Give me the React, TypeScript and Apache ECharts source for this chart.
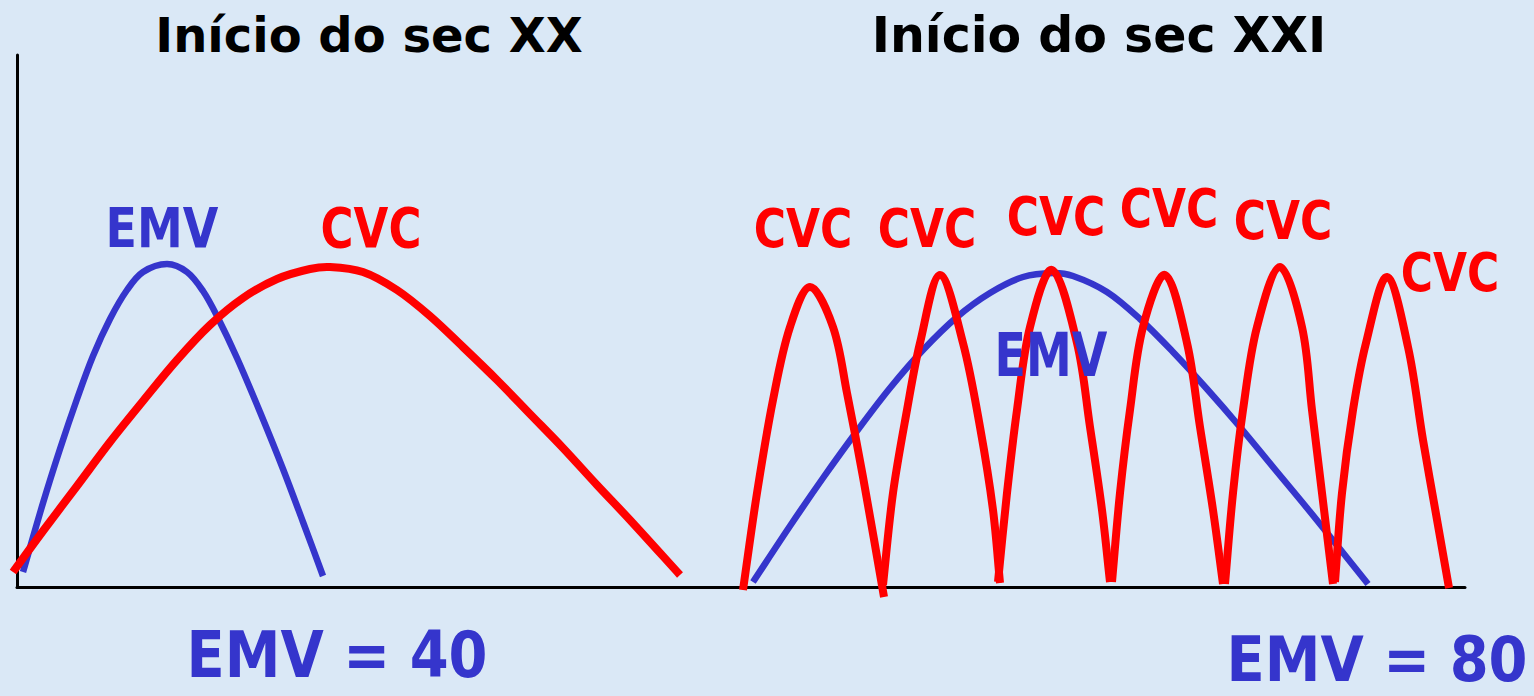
import React, { useEffect, useRef } from "react";
import * as echarts from "echarts";

// x: time offset from the vertical axis, y: height above the horizontal axis
const emv1900: number[][] = [
  [6, 15], [26, 84], [43, 138], [60, 188], [76, 231], [93, 268], [110, 297],
  [126, 315], [150, 323], [170, 315], [186, 296], [200, 271], [220, 229],
  [243, 175], [266, 118], [286, 65], [306, 11],
];
const cvc1900: number[][] = [
  [-4, 15], [26, 56], [60, 101], [93, 145], [126, 186], [160, 227], [193, 262],
  [226, 289], [260, 308], [293, 318], [313, 320], [346, 315], [380, 297],
  [413, 271], [446, 240], [480, 207], [513, 173], [546, 139], [580, 102],
  [613, 67], [663, 12],
];
const emv2000: number[][] = [
  [736, 5], [773, 61], [806, 109], [840, 156], [873, 199], [906, 237],
  [940, 270], [973, 294], [1006, 310], [1036, 314], [1056, 311], [1090, 295],
  [1123, 268], [1156, 235], [1190, 198], [1223, 160], [1256, 120], [1290, 79],
  [1323, 38], [1351, 3],
];
const cvc2000a: number[][] = [
  [726, -3], [740, 94], [756, 187], [773, 260], [793, 300],
  [816, 260], [830, 194], [846, 110], [867, -10],
];
const cvc2000b: number[][] = [
  [866, 2], [876, 94], [890, 177], [903, 244], [923, 312],
  [946, 244], [963, 160], [976, 77], [983, 4],
];
const cvc2000c: number[][] = [
  [981, 5], [990, 94], [1000, 177], [1013, 260], [1035, 317],
  [1060, 244], [1073, 160], [1085, 77], [1093, 5],
];
const cvc2000d: number[][] = [
  [1095, 5], [1103, 94], [1113, 177], [1126, 260], [1148, 312],
  [1170, 244], [1183, 160], [1196, 77], [1206, 3],
];
const cvc2000e: number[][] = [
  [1208, 3], [1216, 94], [1226, 177], [1240, 260], [1263, 320],
  [1285, 260], [1295, 177], [1305, 94], [1316, 3],
];
const cvc2000f: number[][] = [
  [1318, 5], [1325, 94], [1336, 177], [1349, 244], [1370, 310],
  [1391, 240], [1406, 147], [1419, 73], [1432, -1],
];
const cvcArcs = [cvc2000a, cvc2000b, cvc2000c, cvc2000d, cvc2000e, cvc2000f];

const titleLeft = "Início do sec XX";
const titleRight = "Início do sec XXI";
const emvLabel = "EMV";
const cvcLabel = "CVC";
const emvLeftValue = "EMV = 40";
const emvRightValue = "EMV = 80";

const BLUE = "#3535cc";
const RED = "#ff0000";
const FONT = "'DejaVu Sans', 'Noto Sans', sans-serif";

// A smooth curve through pixel points (cardinal-style cubic Béziers, no clamping)
const SmoothCurve = (echarts as any).graphic.extendShape({
  type: "smoothCurve",
  shape: { points: [] as number[][] },
  buildPath(ctx: any, shape: any) {
    const p: number[][] = shape.points;
    if (!p || p.length < 2) return;
    const k = 0.34;
    const dist = (a: number[], b: number[]) => Math.hypot(a[0] - b[0], a[1] - b[1]);
    ctx.moveTo(p[0][0], p[0][1]);
    for (let i = 0; i < p.length - 1; i++) {
      const a = p[i];
      const b = p[i + 1];
      const prev = i > 0 ? p[i - 1] : a;
      const next = i + 2 < p.length ? p[i + 2] : b;
      const d0 = dist(prev, a);
      const d1 = dist(a, b);
      const d2 = dist(b, next);
      const r0 = d0 + d1 > 0 ? d1 / (d0 + d1) : 0;
      const r1 = d1 + d2 > 0 ? d1 / (d1 + d2) : 0;
      const c1x = a[0] + (b[0] - prev[0]) * k * r0;
      const c1y = a[1] + (b[1] - prev[1]) * k * r0;
      const c2x = b[0] - (next[0] - a[0]) * k * r1;
      const c2y = b[1] - (next[1] - a[1]) * k * r1;
      ctx.bezierCurveTo(c1x, c1y, c2x, c2y, b[0], b[1]);
    }
  },
});
(echarts as any).graphic.registerShape("smoothCurve", SmoothCurve);

function label(text: string, x: number, y: number, size: number, color: string, sy = 1, sx = 1) {
  return {
    type: "text",
    x,
    y,
    scaleX: sx,
    scaleY: sy,
    z: 100,
    style: {
      text,
      x: 0,
      y: 0,
      fill: color,
      font: `bold ${size}px ${FONT}`,
      textAlign: "center",
      textVerticalAlign: "middle",
    },
  };
}

function curveSeries(data: number[][], color: string, width: number, z: number) {
  return {
    type: "custom",
    coordinateSystem: "cartesian2d",
    data,
    z,
    clip: false,
    silent: true,
    encode: { x: 0, y: 1 },
    renderItem: (params: any, api: any) => {
      if (params.dataIndex !== 0) return null;
      const pts = data.map((d) => api.coord(d));
      return {
        type: "smoothCurve",
        shape: { points: pts },
        style: { fill: "none", stroke: color, lineWidth: width, lineCap: "butt", lineJoin: "round" },
      };
    },
  };
}

export default function App() {
  const ref = useRef<HTMLDivElement>(null);
  useEffect(() => {
    if (!ref.current) return;
    const chart = echarts.init(ref.current, undefined, { renderer: "svg" });
    chart.setOption({
      animation: false,
      backgroundColor: "#dae8f6",
      grid: { left: 17, top: 55, width: 1448, height: 532 },
      xAxis: {
        type: "value",
        min: 0,
        max: 1448,
        axisLine: { show: true, lineStyle: { color: "#000", width: 3 } },
        axisTick: { show: false },
        axisLabel: { show: false },
        splitLine: { show: false },
      },
      yAxis: {
        type: "value",
        min: 0,
        max: 532,
        axisLine: { show: true, lineStyle: { color: "#000", width: 3 } },
        axisTick: { show: false },
        axisLabel: { show: false },
        splitLine: { show: false },
      },
      series: [
        curveSeries(emv1900, BLUE, 6.5, 2),
        curveSeries(cvc1900, RED, 8, 3),
        curveSeries(emv2000, BLUE, 6.5, 2),
        ...cvcArcs.map((arc) => curveSeries(arc, RED, 8, 3)),
      ],
      graphic: [
        label(titleLeft, 369, 35, 48, "#000"),
        label(titleRight, 1099, 35, 49, "#000"),
        label(emvLabel, 162, 228, 46, BLUE, 1.19),
        label(cvcLabel, 371, 228, 45, RED, 1.22),
        label(cvcLabel, 803, 228, 44, RED, 1.22),
        label(cvcLabel, 927, 228, 44, RED, 1.22),
        label(cvcLabel, 1056, 216, 44, RED, 1.22),
        label(cvcLabel, 1169, 208, 44, RED, 1.22),
        label(cvcLabel, 1283, 220, 44, RED, 1.22),
        label(cvcLabel, 1450, 272, 44, RED, 1.22),
        label(emvLabel, 1051, 355, 46, BLUE, 1.3),
        label(emvLeftValue, 337, 655, 56, BLUE, 1.15),
        label(emvRightValue, 1377, 660, 56, BLUE, 1.1),
      ],
    });
    return () => chart.dispose();
  }, []);
  return (
    <div
      ref={ref}
      style={{ position: "fixed", left: 0, top: 0, width: 1534, height: 696 }}
    />
  );
}
